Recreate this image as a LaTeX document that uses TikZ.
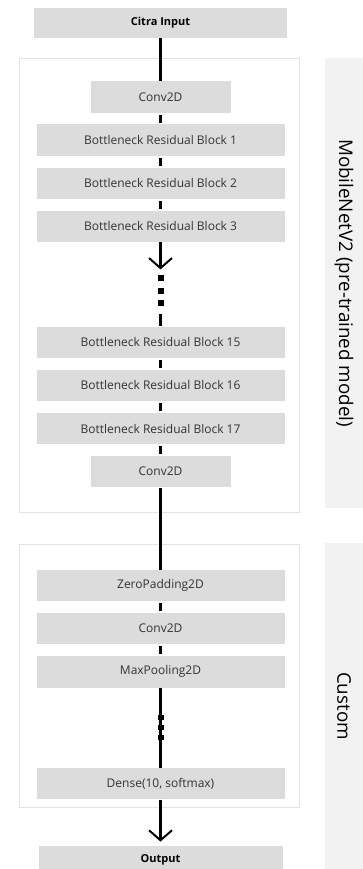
\documentclass[tikz,border=0pt]{standalone}
\usepackage{fontspec}
\setmainfont{Open Sans}
\usetikzlibrary{positioning,arrows.meta}
\definecolor{boxgray}{HTML}{DCDCDC}
\definecolor{panelgray}{HTML}{F2F2F2}
\definecolor{framegray}{HTML}{E2E2E2}
\definecolor{txtgray}{HTML}{333333}
\begin{document}
\begin{tikzpicture}[x=1pt, y=-1pt, node distance = 11.2pt,
    layer/.style = {fill=boxgray, text=txtgray, minimum height=31.5pt, inner sep=0pt, font=\fontsize{12}{14}\selectfont},
    wide/.style = {layer, minimum width=248pt},
    narrow/.style = {layer, minimum width=140pt},
    io/.style = {layer, text=black, font=\fontsize{11}{13}\selectfont\bfseries},
    frame/.style = {draw=framegray, line width=0.8pt, fill=white},
    side/.style = {rotate=-90, text=black, font=\fontsize{18.8}{22}\selectfont},
    bar/.style = {line width=3pt},
    dots/.style = {line width=6pt, dash pattern=on 6pt off 6.5pt},
    smalldots/.style = {line width=6pt, dash pattern=on 5pt off 5pt},
    tip/.style = {bar, -{Straight Barb[length=10pt, width=23pt, line width=2pt]}}]
      \useasboundingbox (0,0) rectangle (363,869);

      \draw[frame] (19,58) rectangle (299,512);
      \draw[frame] (19,544) rectangle (299,807);
      \fill[panelgray] (325,58) rectangle (363,508);
      \fill[panelgray] (325,543) rectangle (363,869);
      \node[side] (mlabel) at (344,283) {MobileNetV2 (pre-trained model)};
      \node[side] (clabel) at (344,706) {Custom};

      \node[io, minimum width=253pt, minimum height=30pt] (in) at (160.5,23) {Citra Input};
      \node[narrow, below=43pt of in] (c1) {Conv2D};
      \node[wide, below=of c1] (b1) {Bottleneck Residual Block 1};
      \node[wide, below=of b1] (b2) {Bottleneck Residual Block 2};
      \node[wide, below=of b2] (b3) {Bottleneck Residual Block 3};
      \node[wide, below=84pt of b3] (b15) {Bottleneck Residual Block 15};
      \node[wide, below=of b15] (b16) {Bottleneck Residual Block 16};
      \node[wide, below=of b16] (b17) {Bottleneck Residual Block 17};
      \node[narrow, below=of b17] (c2) {Conv2D};
      \node[wide, below=82pt of c2] (zp) {ZeroPadding2D};
      \node[wide, below=of zp] (c3) {Conv2D};
      \node[wide, below=of c3] (mp) {MaxPooling2D};
      \node[wide, below=80pt of mp] (dn) {Dense(10, softmax)};
      \node[io, minimum width=244pt, minimum height=28pt, below=46pt of dn] (out) {Output};

      \coordinate[below=27pt of b3] (d1);
      \coordinate[below=33pt of b3] (d2);
      \coordinate[below=65pt of b3] (d3);
      \coordinate[above=12pt of b15] (d4);
      \coordinate[below=27.5pt of mp] (e1);
      \coordinate[below=52.5pt of mp] (e2);
      \coordinate[below=42pt of dn] (e3);

      \draw[bar] (in) -- (c1);
      \foreach \a/\b in {c1/b1, b1/b2, b2/b3, b15/b16, b16/b17, b17/c2, zp/c3, c3/mp}
        \draw[bar, shorten <=1.5pt, shorten >=1.5pt] (\a) -- (\b);
      \draw[bar] (c2) -- (zp);
      \draw[tip] (b3) -- (d1);
      \draw[dots] (d2) -- (d3);
      \draw[bar] (d4) -- (b15);
      \draw[bar] (mp) -- (dn);
      \draw[smalldots] (e1) -- (e2);
      \draw[tip] (dn) -- (e3);
\end{tikzpicture}
\end{document}
